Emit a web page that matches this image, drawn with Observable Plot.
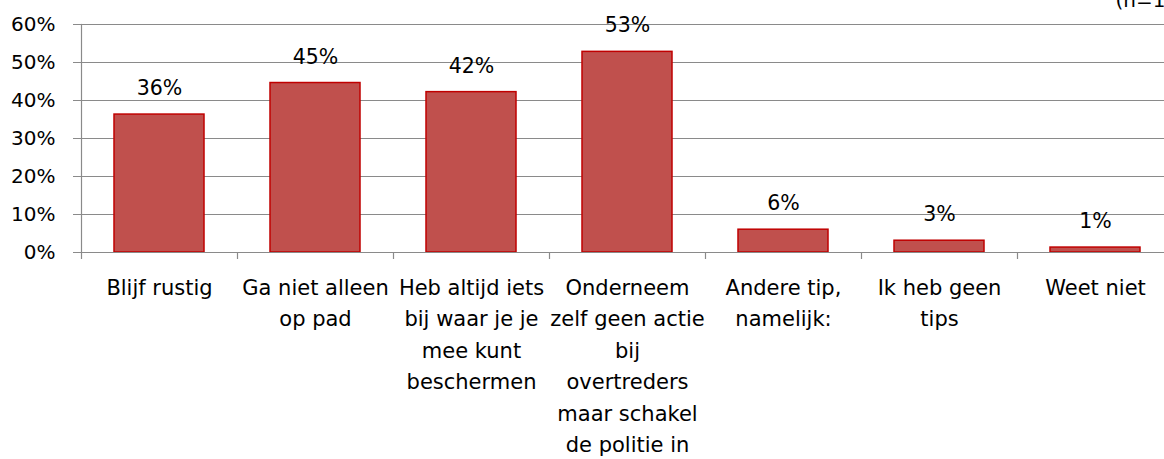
<!DOCTYPE html>
<html>
<head>
<meta charset="utf-8">
<script src="https://cdn.jsdelivr.net/npm/d3@7"></script>
<script src="https://cdn.jsdelivr.net/npm/@observablehq/plot@0.6"></script>
<style>
  html, body { margin: 0; padding: 0; background: #fff; }
  #chart svg { display: block; }
</style>
</head>
<body>
<div id="chart"></div>
<script>
// ---- data ----
const categories = [
  "Blijf rustig",
  "Ga niet alleen\nop pad",
  "Heb altijd iets\nbij waar je je\nmee kunt\nbeschermen",
  "Onderneem\nzelf geen actie\nbij\novertreders\nmaar schakel\nde politie in",
  "Andere tip,\nnamelijk:",
  "Ik heb geen\ntips",
  "Weet niet"
];
const values = [0.363, 0.446, 0.422, 0.528, 0.060, 0.031, 0.013];
const valueLabels = ["36%", "45%", "42%", "53%", "6%", "3%", "1%"];
const yTicks = [0, 0.1, 0.2, 0.3, 0.4, 0.5, 0.6];
const sampleNote = "(n=166)";

const data = categories.map((c, i) => ({cat: c, value: values[i], label: valueLabels[i]}));

// ---- layout ----
const W = 1164, H = 459;
const xRange = [81, 1173];
const step = (xRange[1] - xRange[0]) / categories.length;
const gray = "#8a8a8a";

const chart = Plot.plot({
  width: W,
  height: H,
  marginLeft: 81,
  marginRight: 0,
  marginTop: 24,
  marginBottom: 207,
  style: {fontFamily: "DejaVu Sans", fontSize: "20px", color: "#000", background: "#fff", overflow: "visible"},
  x: {domain: categories, range: xRange, paddingInner: 0.42, paddingOuter: 0.21},
  y: {domain: [0, 0.6]},
  marks: [
    Plot.gridY(yTicks, {stroke: gray, strokeOpacity: 1, strokeWidth: 1.2}),
    Plot.barY(data, {x: "cat", y: "value", fill: "#C0504D", stroke: "#C00000", strokeWidth: 1.5}),
    Plot.ruleY([0], {stroke: gray, strokeWidth: 1.2}),
    Plot.frame({anchor: "left", stroke: gray, strokeWidth: 1.2}),
    Plot.ruleX(categories, {x: d => d, dx: -step / 2, y1: 0, y2: 0, insetBottom: -7, stroke: gray, strokeWidth: 1.2}),
    Plot.axisY(yTicks, {tickFormat: d3.format(".0%"), tickSize: 8, tickPadding: 18, stroke: gray, fontSize: 20, label: null}),
    Plot.axisX({tickSize: 0, tickPadding: 20, fontSize: 21, lineHeight: 1.5, label: null}),
    Plot.text(data, {x: "cat", y: "value", text: "label", dy: -26, lineAnchor: "middle", fontSize: 20.5, fill: "#000"}),
    Plot.text([sampleNote], {frameAnchor: "top-left", dx: 1034, dy: -18, textAnchor: "start", lineAnchor: "bottom", fontSize: 20, fill: "#000"})
  ]
});
document.getElementById("chart").appendChild(chart);
</script>
</body>
</html>
